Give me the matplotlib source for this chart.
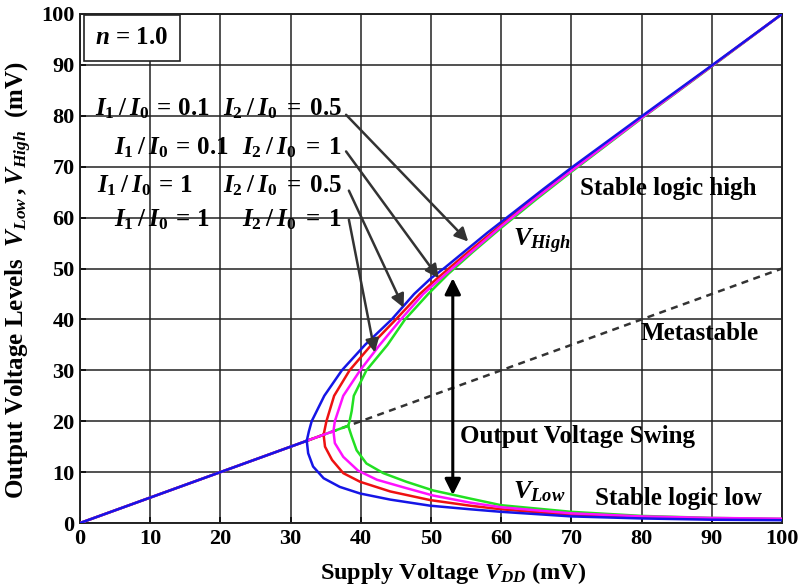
"""
Output voltage levels vs supply voltage (n = 1.0), four bias-current cases.
"""

import numpy as np
import matplotlib
matplotlib.use("Agg")
import matplotlib.pyplot as plt

plt.rcParams["font.family"] = ["Liberation Serif", "DejaVu Serif"]
plt.rcParams["font.weight"] = "bold"
plt.rcParams["mathtext.fontset"] = "custom"
plt.rcParams["mathtext.rm"] = "Liberation Serif:bold"
plt.rcParams["mathtext.it"] = "Liberation Serif:italic:bold"
plt.rcParams["mathtext.bf"] = "Liberation Serif:bold"

# --- data (mV) --------------------------------------------------------------

# I1/I0 = 1, I2/I0 = 1  (blue)
blue_up_x = [32.3, 32.6, 33.0, 34.8, 37.3, 40.6, 44.4, 47.6, 50.0, 52.0, 55.0, 58.0, 62.2, 66.0, 70.0, 80.0, 90.0, 100.0]
blue_up_y = [16.15, 18.0, 20.0, 25.0, 30.0, 35.0, 40.0, 45.0, 48.1, 50.2, 53.6, 57.0, 61.5, 65.6, 69.8, 79.9, 89.9, 100.0]
blue_lo_x = [32.3, 32.5, 33.2, 34.7, 37.0, 39.9, 44.2, 49.9, 55.6, 60.0, 70.0, 80.0, 90.0, 100.0]
blue_lo_y = [16.15, 13.7, 11.1, 8.8, 7.1, 5.8, 4.6, 3.4, 2.7, 2.2, 1.3, 0.9, 0.65, 0.55]

# I1/I0 = 1, I2/I0 = 0.5  (red)
red_up_x = [34.7, 35.1, 36.2, 38.4, 41.5, 45.0, 48.4, 51.0, 55.0, 60.0, 65.0, 70.0, 80.0, 90.0, 100.0]
red_up_y = [17.35, 20.0, 25.0, 30.0, 35.0, 40.0, 45.0, 48.2, 52.9, 58.6, 64.1, 69.4, 79.7, 89.8, 100.0]
red_lo_x = [34.7, 34.9, 35.9, 37.5, 39.9, 44.2, 49.9, 55.6, 60.0, 70.0, 80.0, 90.0, 100.0]
red_lo_y = [17.35, 15.0, 12.4, 9.8, 8.1, 6.2, 4.5, 3.4, 2.7, 1.6, 1.1, 0.8, 0.7]

# I1/I0 = 0.1, I2/I0 = 1  (magenta)
mag_up_x = [36.1, 36.3, 37.5, 39.9, 42.7, 45.7, 48.9, 51.5, 55.0, 60.0, 65.0, 70.0, 80.0, 90.0, 100.0]
mag_up_y = [18.05, 20.0, 25.0, 30.0, 35.0, 40.0, 45.0, 48.2, 52.4, 58.3, 63.9, 69.2, 79.6, 89.8, 100.0]
mag_lo_x = [36.1, 36.3, 37.5, 39.6, 42.3, 46.1, 50.3, 55.6, 60.0, 70.0, 80.0, 90.0, 100.0]
mag_lo_y = [18.05, 15.7, 13.0, 10.3, 8.5, 7.0, 5.4, 4.0, 3.1, 1.9, 1.3, 1.0, 0.85]

# I1/I0 = 0.1, I2/I0 = 0.5  (green)
grn_up_x = [38.2, 38.4, 38.7, 39.0, 40.8, 43.8, 46.3, 49.6, 52.5, 56.0, 60.0, 65.0, 70.0, 80.0, 90.0, 100.0]
grn_up_y = [19.1, 20.0, 22.0, 25.0, 30.0, 35.0, 40.0, 45.0, 49.0, 53.3, 58.0, 63.6, 69.0, 79.5, 89.7, 100.0]
grn_lo_x = [38.2, 38.7, 39.4, 40.8, 43.2, 46.5, 50.3, 55.6, 60.0, 70.0, 80.0, 90.0, 100.0]
grn_lo_y = [19.1, 17.0, 14.3, 11.7, 9.8, 8.1, 6.4, 4.8, 3.5, 2.2, 1.4, 1.0, 0.8]

# metastable state V = VDD/2
meta_x = [32.3, 100.0]
meta_y = [16.15, 50.0]

# bias labels: left part, right part, row height, arrow start, arrow tip
ratio_left = [r"$I_1\:/\:I_0\,=\,0.1$", r"$I_1\:/\:I_0\,=\,0.1$", r"$I_1\:/\:I_0\,=\,1$", r"$I_1\:/\:I_0\,=\,1$"]
ratio_right = [r"$I_2\:/\:I_0\;=\;0.5$", r"$I_2\:/\:I_0\;=\;1$", r"$I_2\:/\:I_0\;=\;0.5$", r"$I_2\:/\:I_0\;=\;1$"]
label_y = [81.3, 73.8, 66.2, 59.6]
left_x = [2.1, 4.9, 2.4, 4.9]
arrow_start = [(37.9, 80.2), (37.9, 73.0), (38.3, 65.3), (38.3, 59.6)]
arrow_tip = [(55.3, 55.3), (51.1, 48.1), (46.1, 42.3), (42.0, 33.5)]

swing_x = 53.1
swing_lo, swing_hi = 5.5, 48.1

ticks = np.arange(0, 101, 10)


def main():
    fig = plt.figure(figsize=(8.01, 5.88), dpi=100)
    ax = fig.add_axes([0.0999, 0.1105, 0.8764, 0.8657])

    ax.set_xlim(0, 100)
    ax.set_ylim(0, 100)
    ax.set_xticks(ticks)
    ax.set_yticks(ticks)
    ax.grid(True, color="#222222", lw=1.1)
    ax.set_axisbelow(True)
    ax.tick_params(direction="in", length=4, width=1.1, labelsize=16, pad=4)
    for lab in ax.get_xticklabels() + ax.get_yticklabels():
        lab.set_fontweight("bold")
    for sp in ax.spines.values():
        sp.set_linewidth(1.4)
        sp.set_color("#222222")

    # metastable dashed branch
    ax.plot(meta_x, meta_y, color="#333333", lw=1.8, dashes=(2.8, 2.2), zorder=2)

    curves = [
        ("#22e022", grn_up_x, grn_up_y, grn_lo_x, grn_lo_y),
        ("#ee1111", red_up_x, red_up_y, red_lo_x, red_lo_y),
        ("#ff10ff", mag_up_x, mag_up_y, mag_lo_x, mag_lo_y),
        ("#1515e6", blue_up_x, blue_up_y, blue_lo_x, blue_lo_y),
    ]
    for col, ux, uy, lx, ly in curves:
        # single solution below the bifurcation point
        ax.plot([0, ux[0]], [0, uy[0]], color=col, lw=1.8, zorder=3)
        ax.plot(ux, uy, color=col, lw=1.8, zorder=3)
        ax.plot(lx, ly, color=col, lw=1.8, zorder=3)

    # bias labels with arrows
    for i in range(4):
        ax.text(left_x[i], label_y[i], ratio_left[i], fontsize=18, ha="left", va="center")
        ax.text(37.3, label_y[i], ratio_right[i], fontsize=18, ha="right", va="center")
        ax.annotate("", xy=arrow_tip[i], xytext=arrow_start[i],
                    arrowprops=dict(arrowstyle="-|>", color="#333333", lw=1.8,
                                    mutation_scale=20, shrinkA=0, shrinkB=0),
                    zorder=4)

    # output swing arrow
    ax.annotate("", xy=(swing_x, swing_hi), xytext=(swing_x, swing_lo),
                arrowprops=dict(arrowstyle="<|-|>", color="black", lw=2.2,
                                mutation_scale=24, shrinkA=0, shrinkB=0),
                zorder=4)

    ax.text(2.2, 95.3, r"$n$ = 1.0", fontsize=18, ha="left", va="center",
            bbox=dict(boxstyle="square,pad=0.45", fc="white", ec="#222222", lw=1.2))
    ax.text(71.2, 65.8, "Stable logic high", fontsize=18, ha="left", va="center")
    ax.text(61.7, 55.3, r"$V_{High}$", fontsize=19, ha="left", va="center")
    ax.text(88.3, 37.3, "Metastable", fontsize=18, ha="center", va="center")
    ax.text(54.1, 17.0, "Output Voltage Swing", fontsize=18, ha="left", va="center")
    ax.text(61.7, 6.2, r"$V_{Low}$", fontsize=19, ha="left", va="center")
    ax.text(73.4, 4.9, "Stable logic low", fontsize=18, ha="left", va="center")

    ax.set_xlabel(r"Supply Voltage $V_{DD}$ (mV)", fontsize=17.5, fontweight="bold")
    ax.xaxis.set_label_coords(0.531, -0.072)
    ax.set_ylabel(r"Output Voltage Levels  $V_{Low}\,,V_{High}$  (mV)", fontsize=18,
                  fontweight="bold")
    ax.yaxis.set_label_coords(-0.066, 0.477)

    fig.savefig("out.png", dpi=100, facecolor="white")
    plt.close(fig)


if __name__ == "__main__":
    main()
